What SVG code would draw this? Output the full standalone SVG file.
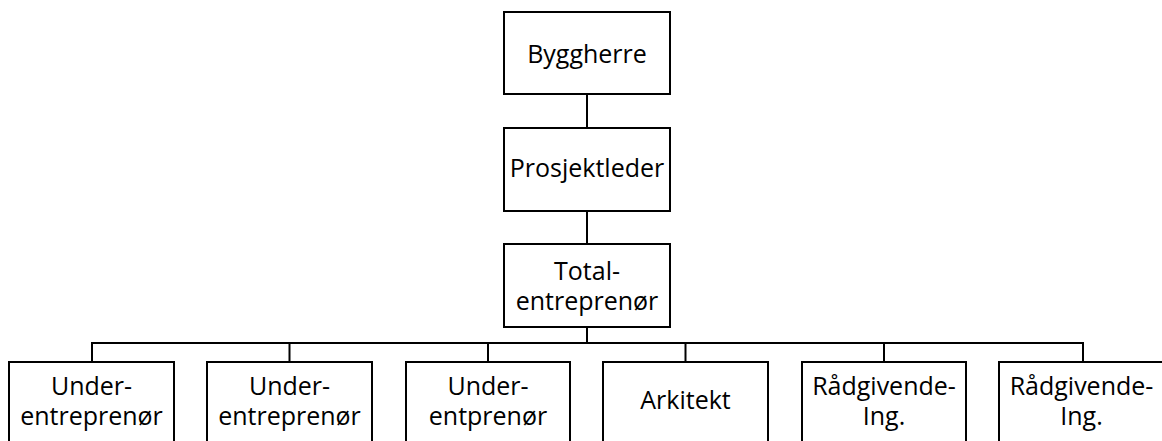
<svg xmlns="http://www.w3.org/2000/svg" width="1162" height="441" viewBox="0 0 1162 441">
<style>
.box{fill:#fff;stroke:#000;stroke-width:2}
.ln{fill:none;stroke:#000;stroke-width:2}
.t{font-family:"Open Sans","Noto Sans",sans-serif;font-size:25px;fill:#000;text-anchor:middle}
</style>
<rect width="1162" height="441" fill="#fff"/>
<g id="connectors">
<line class="ln" x1="587" y1="94" x2="587" y2="128"/>
<line class="ln" x1="587" y1="211" x2="587" y2="244"/>
<line class="ln" x1="587" y1="327" x2="587" y2="343"/>
<line class="ln" x1="91" y1="343" x2="1084" y2="343"/>
<line class="ln" x1="92" y1="342" x2="92" y2="362"/>
<line class="ln" x1="289.5" y1="342" x2="289.5" y2="362"/>
<line class="ln" x1="488" y1="342" x2="488" y2="362"/>
<line class="ln" x1="685.5" y1="342" x2="685.5" y2="362"/>
<line class="ln" x1="884" y1="342" x2="884" y2="362"/>
<line class="ln" x1="1083" y1="342" x2="1083" y2="362"/>
</g>
<g id="byggherre">
<rect class="box" x="504" y="12" width="166" height="82"/>
<text class="t" x="587" y="63">Byggherre</text>
</g>
<g id="prosjektleder">
<rect class="box" x="504" y="128" width="166" height="83"/>
<text class="t" x="587" y="177">Prosjektleder</text>
</g>
<g id="totalentreprenor">
<rect class="box" x="504" y="244" width="166" height="83"/>
<text class="t" x="587" y="280">Total-<tspan x="587" dy="30">entreprenør</tspan></text>
</g>
<g id="under1">
<rect class="box" x="9" y="362" width="165" height="83"/>
<text class="t" x="91.5" y="395">Under-<tspan x="91.5" dy="30">entreprenør</tspan></text>
</g>
<g id="under2">
<rect class="box" x="207" y="362" width="165" height="83"/>
<text class="t" x="289.5" y="395">Under-<tspan x="289.5" dy="30">entreprenør</tspan></text>
</g>
<g id="under3">
<rect class="box" x="406" y="362" width="164" height="83"/>
<text class="t" x="488" y="395">Under-<tspan x="488" dy="30">entprenør</tspan></text>
</g>
<g id="arkitekt">
<rect class="box" x="603" y="362" width="165" height="83"/>
<text class="t" x="685.5" y="409">Arkitekt</text>
</g>
<g id="radgivende1">
<rect class="box" x="802" y="362" width="164" height="83"/>
<text class="t" x="884" y="395">Rådgivende-<tspan x="884" dy="30">Ing.</tspan></text>
</g>
<g id="radgivende2">
<rect class="box" x="999" y="362" width="165" height="83"/>
<text class="t" x="1081.5" y="395">Rådgivende-<tspan x="1081.5" dy="30">Ing.</tspan></text>
</g>
</svg>
